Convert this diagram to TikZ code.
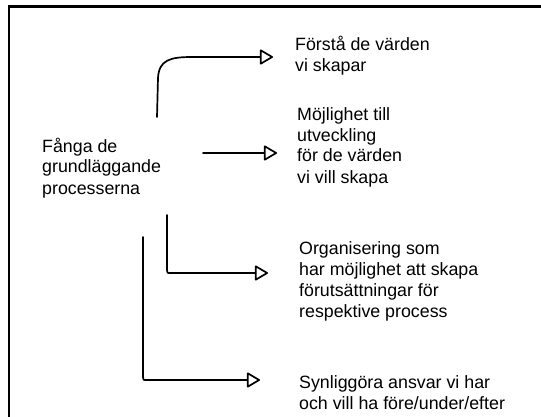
\documentclass[tikz,border=0pt]{standalone}
\usepackage{fontspec}
\setmainfont{Liberation Sans}
\usetikzlibrary{arrows.meta}
\begin{document}
\begin{tikzpicture}[x=1pt,y=-1pt,
  label/.style={anchor=base west, inner sep=0pt, align=left,
    font=\fontsize{17.8}{21}\selectfont},
  conn/.style={line width=1.7pt, line cap=round, line join=round,
    -{Triangle[open,length=14pt,width=16pt,round,line width=1.7pt]}},
  frameline/.style={line width=2.4pt}]
\useasboundingbox (0,0) rectangle (541,417);
% outer frame (left and top edges)
\draw[frameline] (9,420) -- (9,6.5) -- (545,6.5);

% texts, placed by the baseline of their last line
\node[label] (root) at (42,194) {Fånga de\\grundläggande\\processerna};
\node[label] (t1) at (295,72) {Förstå de värden\\vi skapar};
\node[label] (t2) at (297,183) {Möjlighet till\\utveckling\\för de värden\\vi vill skapa};
\node[label] (t3) at (299,317) {Organisering som\\har möjlighet att skapa\\förutsättningar för\\respektive process};
\node[label] (t4) at (299,409) {Synliggöra ansvar vi har\\och vill ha före/under/efter};

% connector start and end points
\coordinate (s1) at (157,117);
\coordinate (e1) at (273,57);
\coordinate (s2) at (203,153);
\coordinate (e2) at (277,153);
\coordinate (s3) at (167,215);
\coordinate (e3) at (268,273);
\coordinate (s4) at (143,237);
\coordinate (e4) at (260,380);

% connectors
\draw[conn] (s1) -- (158,78) .. controls (159,60) and (170,57) .. (192,57) -- (e1);
\draw[conn] (s2) -- (e2);
\draw[conn] (s3) -- (167,270) .. controls (167,273) .. (171,273) -- (e3);
\draw[conn] (s4) -- (143,377) .. controls (143,380) .. (147,380) -- (e4);
\end{tikzpicture}
\end{document}
